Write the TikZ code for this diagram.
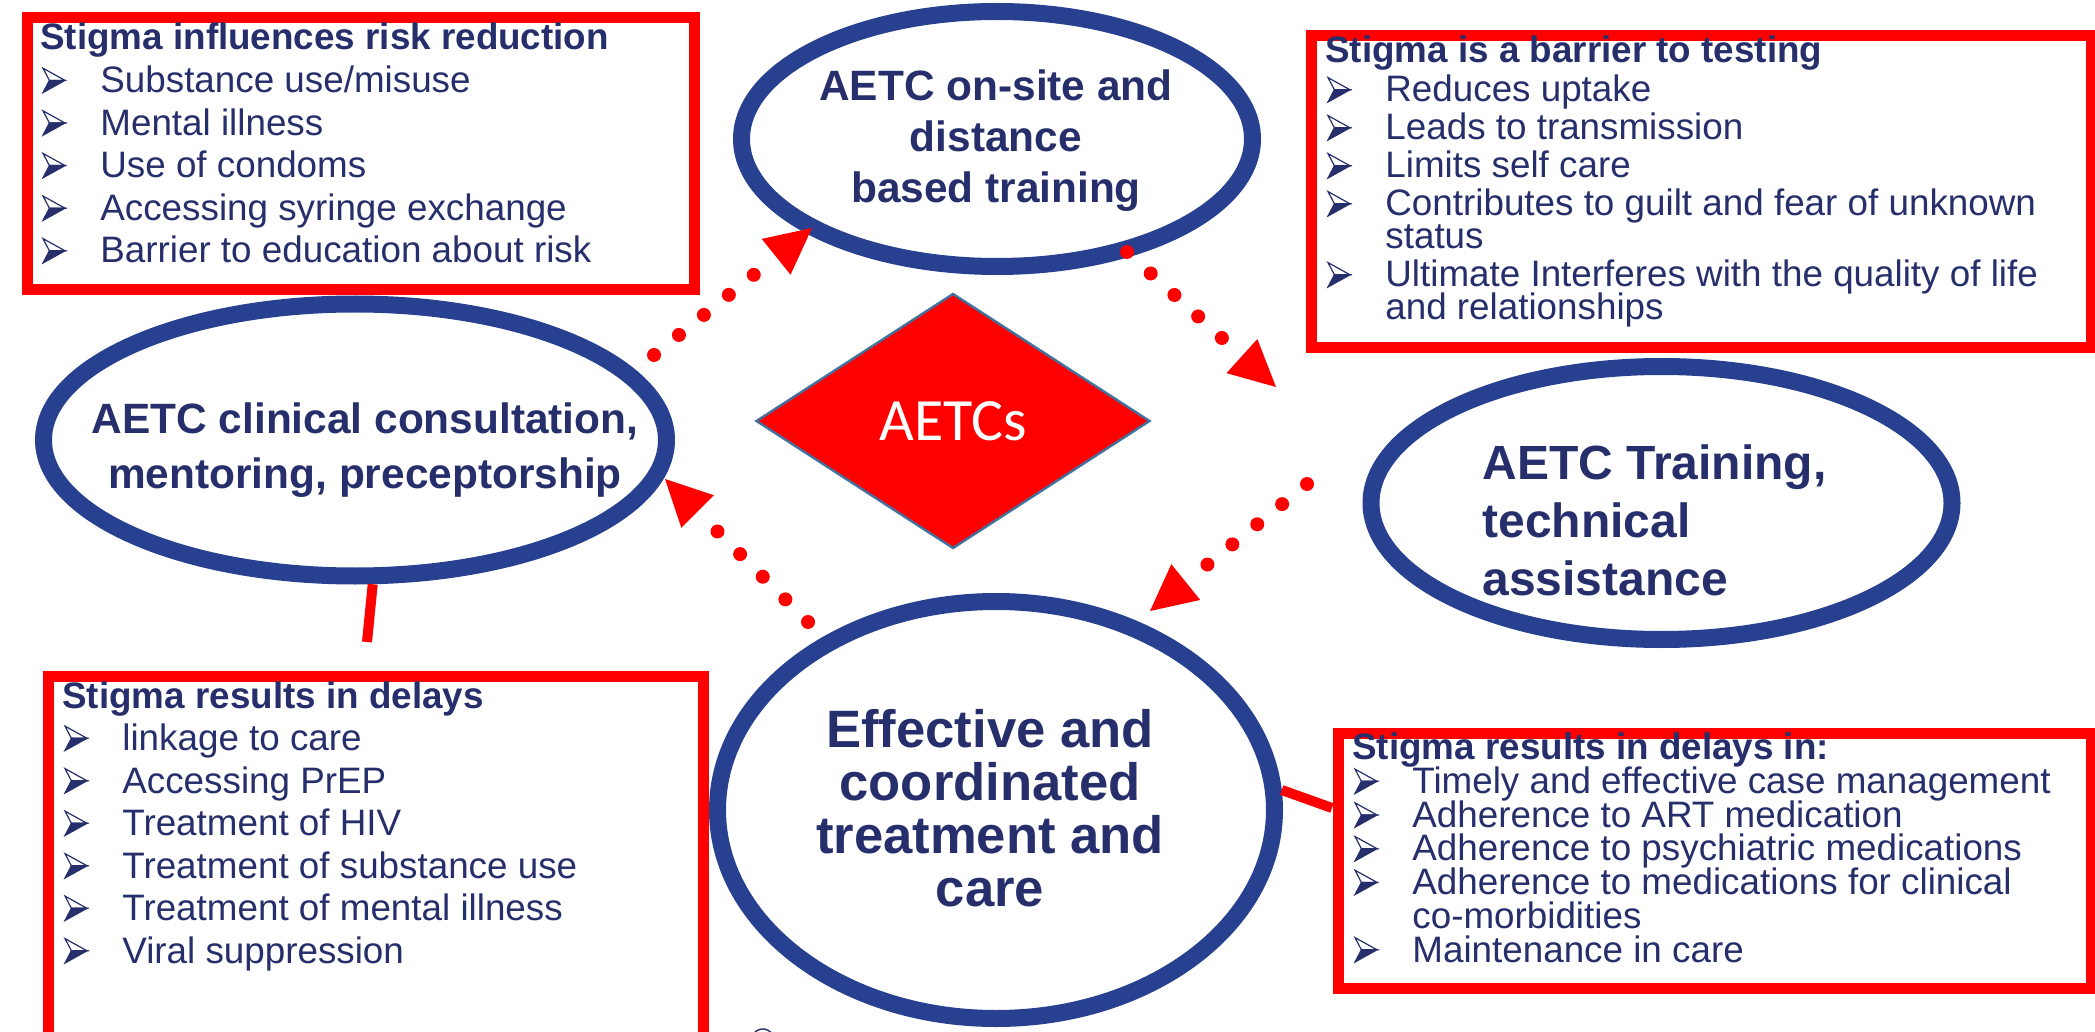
\documentclass[tikz,border=0pt]{standalone}
\usepackage{fontspec}
\setmainfont{Liberation Sans}
\newfontfamily\calib{Carlito}
\usetikzlibrary{shapes.geometric,arrows.meta}
\definecolor{navy}{HTML}{262F6B}
\definecolor{ringblue}{HTML}{27408F}
\definecolor{diaedge}{HTML}{41719C}
\newcommand{\bul}{\tikz[baseline=0pt,x=1pt,y=1pt,line width=0.6pt,line join=miter]{%
  \path[draw=navy,fill=white] (0,12.2)--(11,6.1)--(3.2,6.1)--cycle;
  \path[draw=navy,fill=navy] (0,0)--(11,6.1)--(3.2,6.1)--cycle;}}
\newcommand{\bi}{\makebox[30pt][l]{\hspace*{1pt}\bul}}
\newcommand{\ind}{\hspace*{30pt}}
\newcommand{\nols}{\lineskiplimit-100pt\relax}
\begin{document}
\begin{tikzpicture}[x=0.5pt,y=-0.5pt,
  boxframe/.style={draw=red,line width=5.5pt,fill=white,inner sep=0pt,anchor=north west,rectangle},
  ell/.style={ellipse,draw=ringblue,line width=8.5pt,fill=white,inner sep=0pt},
  listtext/.style={anchor=base west,align=left,inner sep=0pt,text=navy},
  elltext/.style={inner sep=0pt,text=navy},
  dotarrow/.style={draw=red,line width=7pt,line cap=round,dash pattern=on 0pt off 16pt,
     -{Triangle[length=23pt,width=23pt,line width=0pt]}},
  linkline/.style={draw=red,line width=5pt}]
\useasboundingbox (0,0) rectangle (2095,1032);
\fill[white] (0,0) rectangle (2095,1032);

% ellipses
\node[ell,minimum width=255.5pt,minimum height=127.5pt] (top) at (997,139) {};
\node[ell,minimum width=311.5pt,minimum height=136pt] (left) at (355,440) {};
\node[ell,minimum width=290.5pt,minimum height=136.5pt] (right) at (1661.5,503) {};
\node[ell,minimum width=278.5pt,minimum height=208.5pt] (bot) at (996,810) {};

% hub
\node[diamond,draw=diaedge,line width=1.2pt,fill=red,minimum width=197pt,minimum height=127.5pt,
  inner sep=0pt,text=white,font={\calib\fontsize{30}{36}\selectfont}] (hub) at (953,421) {AETCs};

% boxes
\node[boxframe,minimum width=333.5pt,minimum height=136pt] (tlbox) at (21.5,12.5) {};
\node[boxframe,minimum width=390pt,minimum height=156pt] (trbox) at (1305.5,30.5) {};
\node[boxframe,minimum width=327.5pt,minimum height=182.5pt] (blbox) at (42.5,670.5) {};
\node[boxframe,minimum width=376.5pt,minimum height=127.5pt] (brbox) at (1332.5,727.5) {};

% dotted arrows
\coordinate (a1s) at (654,355); \coordinate (a1e) at (812,228);
\coordinate (a2s) at (1127,252); \coordinate (a2e) at (1276,387);
\coordinate (a3s) at (1307,484); \coordinate (a3e) at (1150,611);
\coordinate (a4s) at (808,622); \coordinate (a4e) at (665,479);
\draw[dotarrow] (a1s) -- (a1e);
\draw[dotarrow] (a2s) -- (a2e);
\draw[dotarrow] (a3s) -- (a3e);
\draw[dotarrow] (a4s) -- (a4e);

% solid links
\coordinate (lkA) at (367,642);
\coordinate (lkB) at (1332,808);
\draw[linkline] (left.-83) -- (lkA);
\draw[linkline] (bot.4) -- (lkB);

% ellipse texts (anchor = baseline of last line)
\node[elltext,anchor=base,align=center,font={\bfseries\fontsize{21.2}{25.5}\selectfont\nols}] (toptxt) at (996,203)
  {AETC on-site and\\distance\\based training};
\node[elltext,anchor=base,align=center,font={\bfseries\fontsize{21.2}{27.5}\selectfont\nols}] (lefttxt) at (365,488)
  {AETC clinical consultation,\\mentoring, preceptorship};
\node[elltext,anchor=base west,align=left,font={\bfseries\fontsize{24}{29}\selectfont\nols}] (righttxt) at (1482,595)
  {AETC Training,\\technical\\assistance};
\node[elltext,anchor=base,align=center,font={\bfseries\fontsize{26.3}{26.5}\selectfont\nols}] (bottxt) at (990,906)
  {Effective and\\coordinated\\treatment and\\care};

% list texts (anchor = baseline of last line)
\node[listtext,font={\fontsize{18.4}{21.3}\selectfont\nols}] (tltxt) at (40,263)
  {{\bfseries Stigma influences risk reduction}\\
   \bi Substance use/misuse\\
   \bi Mental illness\\
   \bi Use of condoms\\
   \bi Accessing syringe exchange\\
   \bi Barrier to education about risk};
\node[listtext,font={\fontsize{18.4}{16.5}\selectfont\nols}] (trtxt) at (1325,320)
  {{\bfseries Stigma is a barrier to testing}\\[3pt]
   \bi Reduces uptake\\[2.5pt]
   \bi Leads to transmission\\[2.5pt]
   \bi Limits self care\\[2.5pt]
   \bi Contributes to guilt and fear of unknown\\
   \ind status\\[2.5pt]
   \bi Ultimate Interferes with the quality of life\\
   \ind and relationships};
\node[listtext,font={\fontsize{18.4}{21.25}\selectfont\nols}] (bltxt) at (62,963)
  {{\bfseries Stigma results in delays}\\
   \bi linkage to care\\
   \bi Accessing PrEP\\
   \bi Treatment of HIV\\
   \bi Treatment of substance use\\
   \bi Treatment of mental illness\\
   \bi Viral suppression};
\node[listtext,font={\fontsize{18.4}{16.85}\selectfont\nols}] (brtxt) at (1352,962)
  {{\bfseries Stigma results in delays in:}\\
   \bi Timely and effective case management\\
   \bi Adherence to ART medication\\
   \bi Adherence to psychiatric medications\\
   \bi Adherence to medications for clinical\\
   \ind co-morbidities\\
   \bi Maintenance in care};

\node[text=navy,anchor=base,inner sep=0pt,font={\fontsize{17}{20}\selectfont}] (copy) at (763,1052) {©};
\end{tikzpicture}
\end{document}
